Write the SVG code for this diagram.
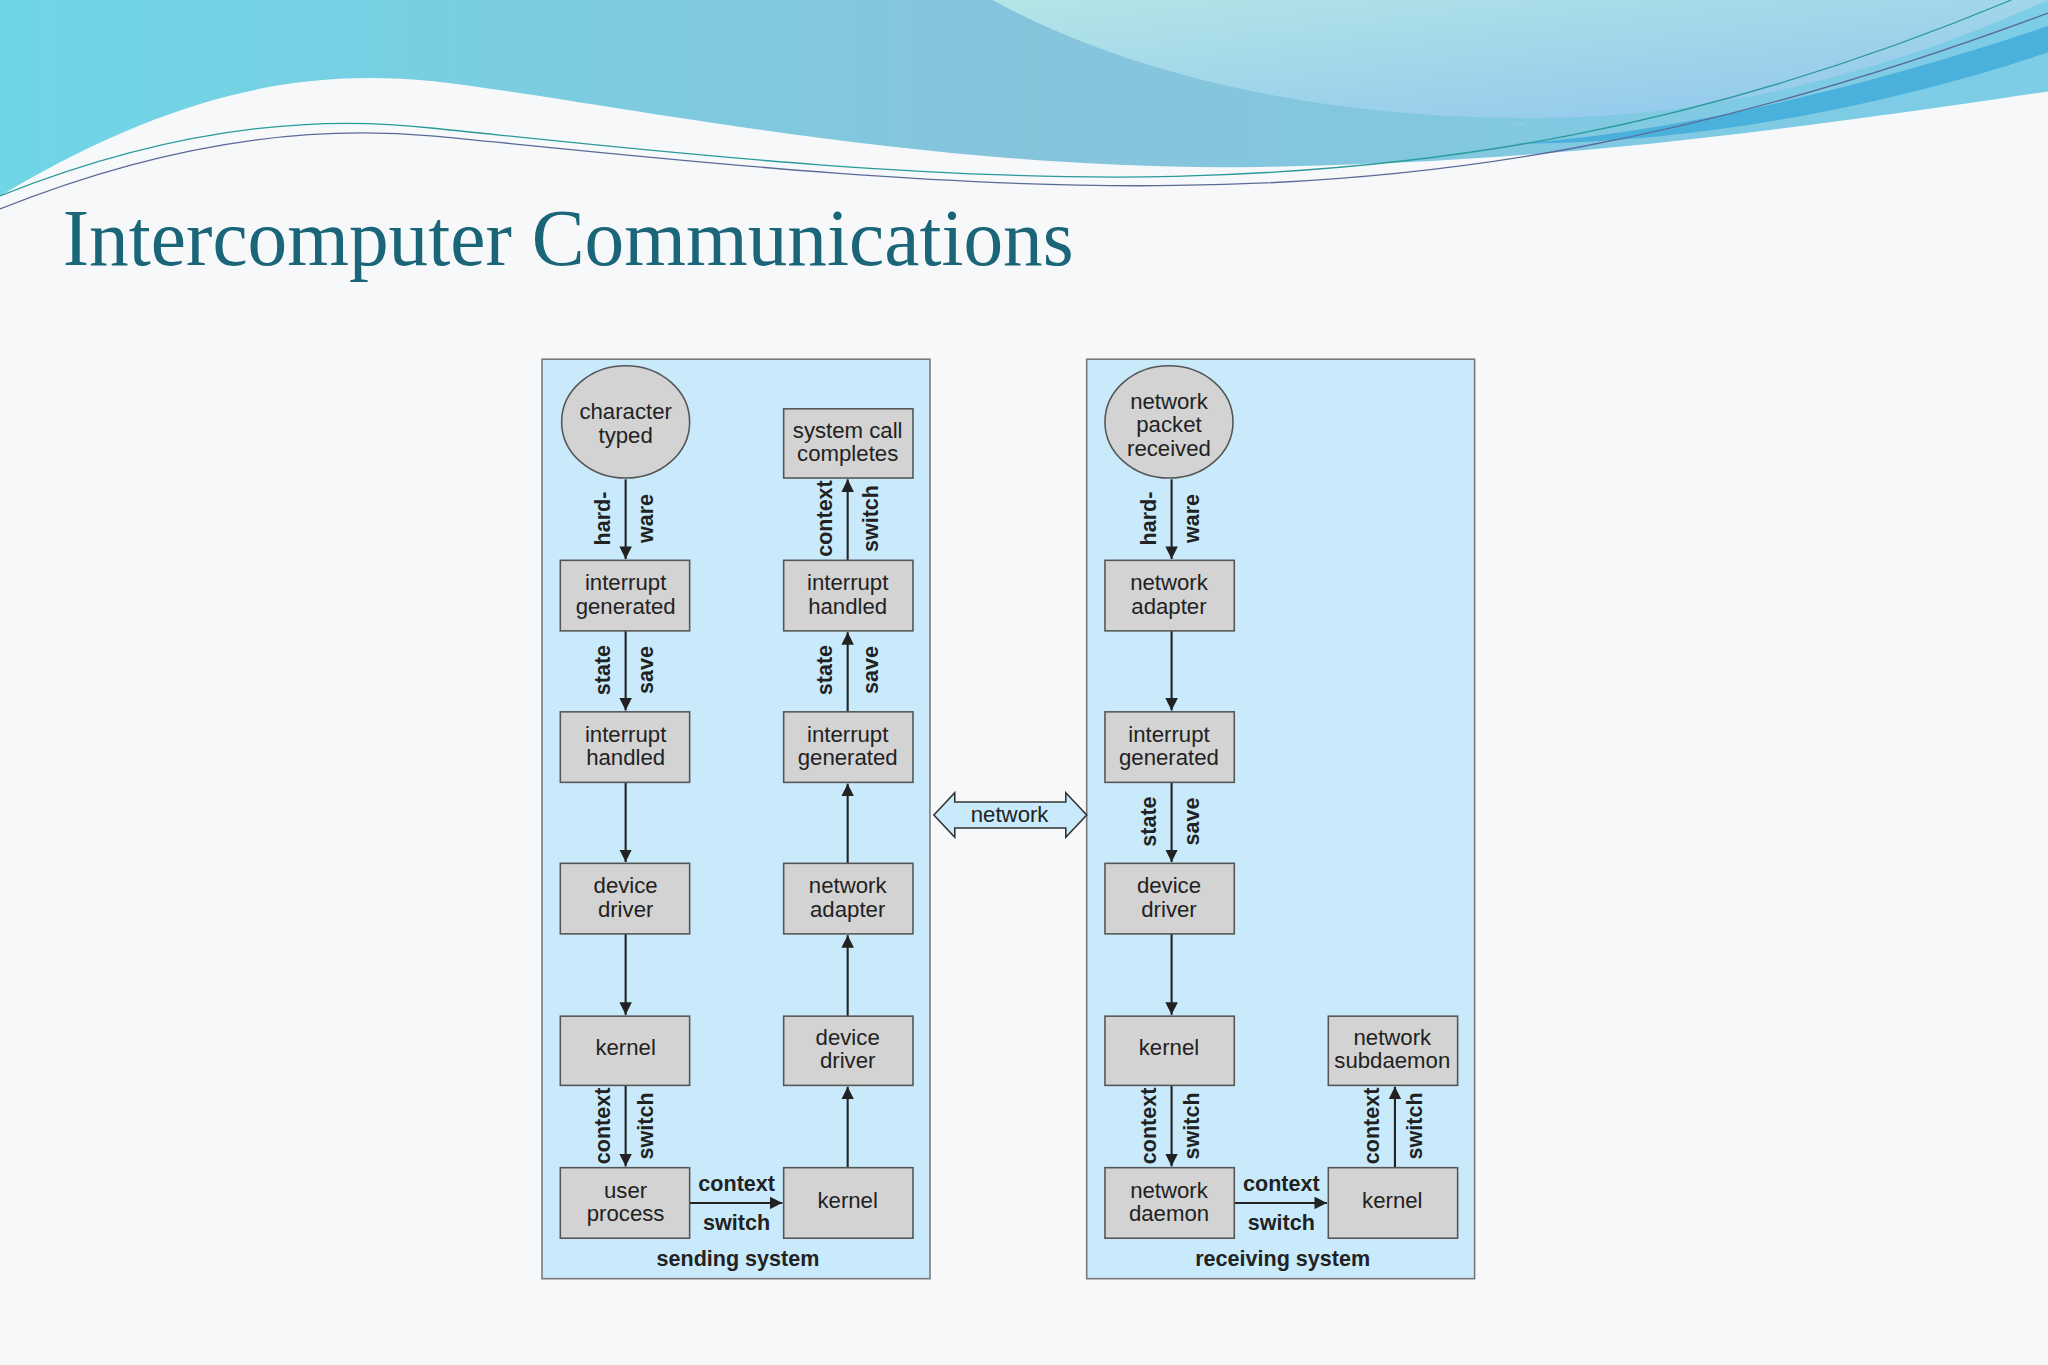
<svg xmlns="http://www.w3.org/2000/svg" width="2048" height="1365" viewBox="0 0 2048 1365">
<defs>
<linearGradient id="wv" x1="0" y1="0" x2="1" y2="0"><stop offset="0" stop-color="#6fd6e6"/><stop offset="0.5" stop-color="#86c4dc"/><stop offset="1" stop-color="#7ccde6"/></linearGradient>
<linearGradient id="wv2" x1="0" y1="0" x2="1" y2="1"><stop offset="0" stop-color="#b3e6e6"/><stop offset="1" stop-color="#8fc4ee"/></linearGradient>
<marker id="ah" viewBox="0 0 10 10" refX="10" refY="5" markerWidth="6" markerHeight="6" orient="auto-start-reverse"><path d="M0,0 L10,5 L0,10 z" fill="#222"/></marker>
<style>
.pn{fill:#c8eafb;stroke:#777;stroke-width:1.2}
.bx{fill:#d3d3d3;stroke:#555;stroke-width:1.2}
.t{font-family:"Liberation Sans",Arial,sans-serif;font-size:17px;fill:#222;text-anchor:middle}
.b{font-family:"Liberation Sans",Arial,sans-serif;font-size:16.5px;font-weight:bold;fill:#222;text-anchor:middle}
.ln{stroke:#222;stroke-width:1.6;fill:none;marker-end:url(#ah)}
</style>
</defs>
<rect width="2048" height="1365" fill="#f7f8fa"/>
<g transform="scale(1.30612)">
<path d="M0,150 C150,60 250,55 330,62 C450,75 700,130 950,128 C1150,125 1300,110 1568,70 V0 H700 C760,60 900,100 1140,95 C1300,95 1450,60 1568,30 V0 H0 Z" fill="url(#wv)"/>
<path d="M760,0 C850,50 1000,95 1200,90 C1350,85 1480,40 1568,0 Z" fill="url(#wv2)"/>
<path d="M1160,110 C1300,100 1450,60 1568,20 V40 C1450,80 1300,110 1160,110 Z" fill="#4ab0dc"/>
<path d="M0,150 C150,90 260,90 330,98 C450,110 700,140 900,135 C1100,130 1300,100 1540,0" stroke="#2a9a9a" stroke-width="1" fill="none"/>
<path d="M0,160 C150,100 260,98 330,104 C450,115 700,145 900,142 C1100,140 1300,110 1568,10" stroke="#5a6a9a" stroke-width="1" fill="none"/>
<text x="48" y="203" font-family="'Liberation Serif',serif" font-size="62" fill="#1a6678" textLength="774" lengthAdjust="spacingAndGlyphs">Intercomputer Communications</text>

<g id="panels">
<rect class="pn" x="415" y="275" width="297" height="704"/>
<rect class="pn" x="832" y="275" width="297" height="704"/>
<text class="b" x="565" y="969">sending system</text>
<text class="b" x="982" y="969">receiving system</text>
</g>

<g id="connectors">
<line class="ln" x1="479" y1="367" x2="479" y2="428"/>
<line class="ln" x1="479" y1="483" x2="479" y2="544"/>
<line class="ln" x1="479" y1="599" x2="479" y2="660"/>
<line class="ln" x1="479" y1="715" x2="479" y2="777"/>
<line class="ln" x1="479" y1="831" x2="479" y2="893"/>
<line class="ln" x1="528" y1="921" x2="599" y2="921"/>
<line class="ln" x1="649" y1="894" x2="649" y2="832"/>
<line class="ln" x1="649" y1="778" x2="649" y2="716"/>
<line class="ln" x1="649" y1="661" x2="649" y2="600"/>
<line class="ln" x1="649" y1="545" x2="649" y2="484"/>
<line class="ln" x1="649" y1="429" x2="649" y2="367"/>
<line class="ln" x1="897" y1="367" x2="897" y2="428"/>
<line class="ln" x1="897" y1="483" x2="897" y2="544"/>
<line class="ln" x1="897" y1="599" x2="897" y2="660"/>
<line class="ln" x1="897" y1="715" x2="897" y2="777"/>
<line class="ln" x1="897" y1="831" x2="897" y2="893"/>
<line class="ln" x1="945" y1="921" x2="1016" y2="921"/>
<line class="ln" x1="1068" y1="894" x2="1068" y2="832"/>
<path d="M715,624 L731,607 V614 H816 V607 L832,624 L816,641 V634 H731 V641 Z" fill="#c8eafb" stroke="#333" stroke-width="1.2"/>
<text class="t" x="773" y="629">network</text>
<g class="b">
<text transform="translate(467,397) rotate(-90)">hard-</text>
<text transform="translate(500,397) rotate(-90)">ware</text>
<text transform="translate(467,513) rotate(-90)">state</text>
<text transform="translate(500,513) rotate(-90)">save</text>
<text transform="translate(467,862) rotate(-90)">context</text>
<text transform="translate(500,862) rotate(-90)">switch</text>
<text transform="translate(637,397) rotate(-90)">context</text>
<text transform="translate(672,397) rotate(-90)">switch</text>
<text transform="translate(637,513) rotate(-90)">state</text>
<text transform="translate(672,513) rotate(-90)">save</text>
<text x="564" y="912">context</text>
<text x="564" y="942">switch</text>
<text transform="translate(885,397) rotate(-90)">hard-</text>
<text transform="translate(918,397) rotate(-90)">ware</text>
<text transform="translate(885,629) rotate(-90)">state</text>
<text transform="translate(918,629) rotate(-90)">save</text>
<text transform="translate(885,862) rotate(-90)">context</text>
<text transform="translate(918,862) rotate(-90)">switch</text>
<text transform="translate(1056,862) rotate(-90)">context</text>
<text transform="translate(1089,862) rotate(-90)">switch</text>
<text x="981" y="912">context</text>
<text x="981" y="942">switch</text>
</g>
</g>

<g id="n-char"><ellipse class="bx" cx="479" cy="323" rx="49" ry="43"/><text class="t" x="479" y="321">character</text><text class="t" x="479" y="339">typed</text></g>
<g id="n-ig1"><rect class="bx" x="429" y="429" width="99" height="54"/><text class="t" x="479" y="452">interrupt</text><text class="t" x="479" y="470">generated</text></g>
<g id="n-ih1"><rect class="bx" x="429" y="545" width="99" height="54"/><text class="t" x="479" y="568">interrupt</text><text class="t" x="479" y="586">handled</text></g>
<g id="n-dd1"><rect class="bx" x="429" y="661" width="99" height="54"/><text class="t" x="479" y="684">device</text><text class="t" x="479" y="702">driver</text></g>
<g id="n-k1"><rect class="bx" x="429" y="778" width="99" height="53"/><text class="t" x="479" y="808">kernel</text></g>
<g id="n-up"><rect class="bx" x="429" y="894" width="99" height="54"/><text class="t" x="479" y="917">user</text><text class="t" x="479" y="935">process</text></g>
<g id="n-k2"><rect class="bx" x="600" y="894" width="99" height="54"/><text class="t" x="649" y="925">kernel</text></g>
<g id="n-dd2"><rect class="bx" x="600" y="778" width="99" height="53"/><text class="t" x="649" y="800">device</text><text class="t" x="649" y="818">driver</text></g>
<g id="n-na1"><rect class="bx" x="600" y="661" width="99" height="54"/><text class="t" x="649" y="684">network</text><text class="t" x="649" y="702">adapter</text></g>
<g id="n-ig2"><rect class="bx" x="600" y="545" width="99" height="54"/><text class="t" x="649" y="568">interrupt</text><text class="t" x="649" y="586">generated</text></g>
<g id="n-ih2"><rect class="bx" x="600" y="429" width="99" height="54"/><text class="t" x="649" y="452">interrupt</text><text class="t" x="649" y="470">handled</text></g>
<g id="n-scc"><rect class="bx" x="600" y="313" width="99" height="53"/><text class="t" x="649" y="335">system call</text><text class="t" x="649" y="353">completes</text></g>

<g id="n-npr"><ellipse class="bx" cx="895" cy="323" rx="49" ry="43"/><text class="t" x="895" y="313">network</text><text class="t" x="895" y="331">packet</text><text class="t" x="895" y="349">received</text></g>
<g id="n-na2"><rect class="bx" x="846" y="429" width="99" height="54"/><text class="t" x="895" y="452">network</text><text class="t" x="895" y="470">adapter</text></g>
<g id="n-ig3"><rect class="bx" x="846" y="545" width="99" height="54"/><text class="t" x="895" y="568">interrupt</text><text class="t" x="895" y="586">generated</text></g>
<g id="n-dd3"><rect class="bx" x="846" y="661" width="99" height="54"/><text class="t" x="895" y="684">device</text><text class="t" x="895" y="702">driver</text></g>
<g id="n-k3"><rect class="bx" x="846" y="778" width="99" height="53"/><text class="t" x="895" y="808">kernel</text></g>
<g id="n-nd"><rect class="bx" x="846" y="894" width="99" height="54"/><text class="t" x="895" y="917">network</text><text class="t" x="895" y="935">daemon</text></g>
<g id="n-k4"><rect class="bx" x="1017" y="894" width="99" height="54"/><text class="t" x="1066" y="925">kernel</text></g>
<g id="n-nsd"><rect class="bx" x="1017" y="778" width="99" height="53"/><text class="t" x="1066" y="800">network</text><text class="t" x="1066" y="818">subdaemon</text></g>
</g>
</svg>
